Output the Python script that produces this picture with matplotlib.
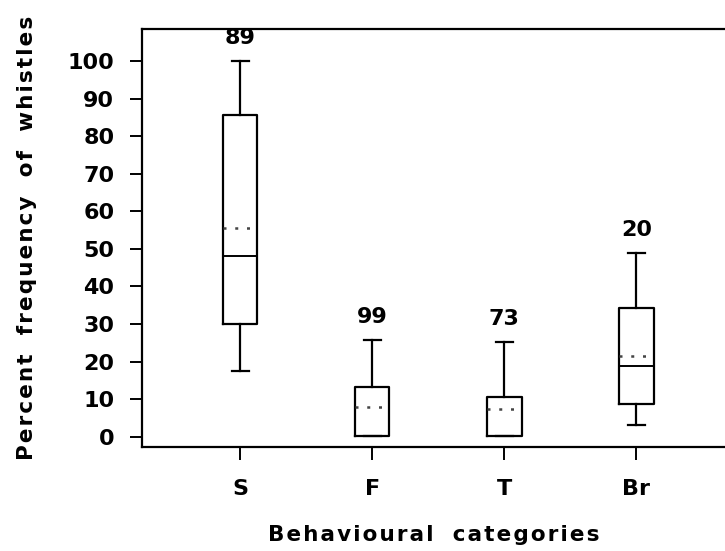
import matplotlib
matplotlib.use("Agg")
import matplotlib.pyplot as plt

# whistle frequency per behavioural category (percent)
categories = ["S", "F", "T", "Br"]
sample_sizes = [89, 99, 73, 20]
whisker_low = [17.5, 0.3, 0.3, 3.0]
quartile_1 = [30.0, 0.3, 0.3, 8.7]
medians = [48.0, 0.3, 0.3, 18.7]
means = [55.6, 8.0, 7.4, 21.5]
quartile_3 = [85.6, 13.3, 10.7, 34.2]
whisker_high = [100.0, 25.8, 25.3, 48.8]

plt.rcParams["font.family"] = ["DejaVu Sans"]


def spaced(text):
    # loose letter spacing with hair spaces between characters
    return "\u200a".join(text).replace("\u200a \u200a", "\u200a  \u200a")


fig = plt.figure(figsize=(7.25, 5.51), dpi=100)
ax = fig.add_axes([0.196, 0.189, 0.804, 0.758])

stats = []
for i, name in enumerate(categories):
    stats.append({
        "label": name,
        "whislo": whisker_low[i],
        "q1": quartile_1[i],
        "med": medians[i],
        "mean": means[i],
        "q3": quartile_3[i],
        "whishi": whisker_high[i],
        "fliers": [],
    })

positions = [1, 2, 3, 4]
line = dict(color="black", linewidth=1.6)
ax.bxp(stats, positions=positions, widths=0.26, showmeans=True, meanline=True,
       boxprops=line, whiskerprops=line, capprops=line,
       medianprops=dict(color="black", linewidth=1.4),
       meanprops=dict(color="#444444", linestyle=(0, (1.2, 3.5)), linewidth=1.8),
       capwidths=0.13)

# sample size above each upper whisker
for x, top, n in zip(positions, whisker_high, sample_sizes):
    ax.text(x, top + 3.5, str(n), ha="center", va="bottom",
            fontsize=16, fontweight="bold")

ax.set_xlim(0.258, 4.67)
ax.set_ylim(-2.7, 108.5)
ax.set_yticks(range(0, 101, 10))
ax.set_xticks(positions)
ax.set_xticklabels(categories)

for side in ["left", "bottom", "top"]:
    ax.spines[side].set_linewidth(1.6)
ax.spines["right"].set_visible(False)

ax.tick_params(axis="both", direction="out", length=9, width=1.4,
               labelsize=16)
ax.tick_params(axis="y", pad=11)
ax.tick_params(axis="x", pad=14)
for lbl in ax.get_xticklabels() + ax.get_yticklabels():
    lbl.set_fontweight("bold")

ax.set_ylabel(spaced("Percent frequency of whistles"), fontsize=15.5,
              fontweight="bold", labelpad=22)
ax.set_xlabel(spaced("Behavioural categories"), fontsize=15.5,
              fontweight="bold", labelpad=19)

fig.savefig("out.png", dpi=100)
